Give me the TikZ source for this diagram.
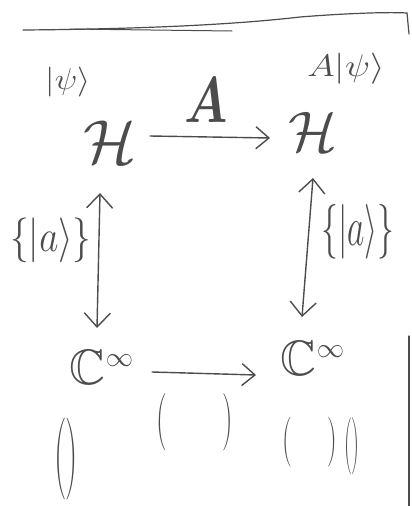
\documentclass[tikz,border=0pt]{standalone}
\usepackage{amsmath}
\usepackage{amssymb}
\usetikzlibrary{arrows.meta}
\definecolor{pencil}{gray}{0.3}
\begin{document}
\begin{tikzpicture}[x=1pt,y=-1pt,
  ink/.style={draw=pencil,line width=1.4pt,line cap=round},
  tip/.style={-{Straight Barb[length=13pt,width=22pt]}},
  twotip/.style={{Straight Barb[length=14pt,width=26pt]}-{Straight Barb[length=14pt,width=26pt]}},
  sym/.style={text=pencil,inner sep=0pt,font=\Huge},
  par/.style={text=pencil,inner sep=0pt,font=\Huge}]
\useasboundingbox (0,0) rectangle (412,506);
% frame
\draw[ink,line width=1.2pt] (23,30) .. controls (150,29) and (240,24) .. (300,17) .. controls (350,13) and (390,12) .. (407,13) -- (409,34);
\draw[ink,line width=1.0pt] (70,29) -- (232,31);
\draw[ink,line width=1.2pt] (409,336) -- (409,506);
% nodes
\node[sym] (H1) at (110,142) {\scalebox{2.5}{$\mathcal{H}$}};
\node[sym] (H2) at (313,132) {\scalebox{2.3}{$\mathcal{H}$}};
\node[sym] (C1) at (102,367) {\scalebox{2}{$\mathbb{C}^{\scalebox{0.55}{$\infty$}}$}};
\node[sym] (C2) at (313,358) {\scalebox{2}{$\mathbb{C}^{\scalebox{0.55}{$\infty$}}$}};
% labels
\node[sym] (psi) at (68,82) {\scalebox{1.35}[1.2]{$|\psi\rangle$}};
\node[sym] (apsi) at (346,69) {\scalebox{1.5}[1.25]{$A|\psi\rangle$}};
\node[sym] (A) at (206,100) {\scalebox{2.0}[2.6]{$\boldsymbol{A}$}};
\node[sym] (s1) at (51,240) {\scalebox{1.5}[1.8]{$\{|a\rangle\}$}};
\node[sym] (s2) at (358,232) {\scalebox{1.35}[2.2]{$\{|a\rangle\}$}};
% parentheses
\node[par] (p1) at (66,459) {\scalebox{1.4}[3.3]{(\kern-1pt)}};
\node[par] (p2) at (195,422) {\scalebox{1.2}[2.3]{(\hspace{46pt})}};
\node[par] (p3) at (310,442) {\scalebox{1.1}[2.0]{(\hspace{32pt})}};
\node[par] (p4) at (352,446) {\scalebox{0.9}[2.3]{(\kern-2pt)}};
% arrows
\draw[ink,tip] ([xshift=40pt,yshift=6pt]H1.center) -- ([xshift=-43pt,yshift=-6pt]H2.center);
\draw[ink,tip] ([xshift=50pt,yshift=-5pt]C1.center) -- ([xshift=-57pt,yshift=-17pt]C2.center);
\draw[ink,twotip] ([xshift=-10pt,yshift=-51pt]H1.center) -- ([xshift=-5pt,yshift=39pt]C1.center);
\draw[ink,twotip] ([xshift=0pt,yshift=-46pt]H2.center) -- ([xshift=-11pt,yshift=41pt]C2.center);
\end{tikzpicture}
\end{document}
